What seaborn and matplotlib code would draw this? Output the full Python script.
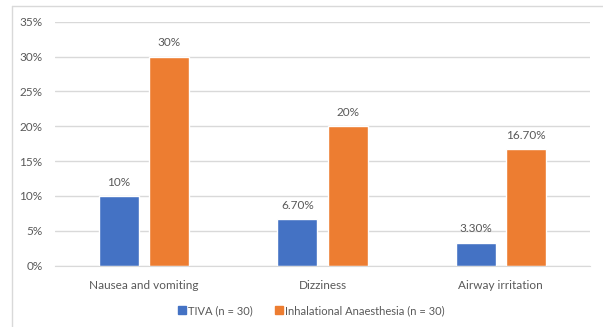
import matplotlib
matplotlib.use("Agg")
import matplotlib.pyplot as plt
import seaborn as sns
import pandas as pd
from matplotlib.lines import Line2D
from matplotlib.ticker import PercentFormatter

# Datos del gráfico
categories = ["Nausea and vomiting", "Dizziness", "Airway irritation"]
groups = ["TIVA (n = 30)", "Inhalational Anaesthesia (n = 30)"]
tiva_values = [10, 6.7, 3.3]
inhal_values = [30, 20, 16.7]
tiva_labels = ["10%", "6.70%", "3.30%"]
inhal_labels = ["30%", "20%", "16.70%"]
y_ticks = [0, 5, 10, 15, 20, 25, 30, 35]

colors = ["#4472c4", "#ed7d31"]
text_color = "#595959"
grid_color = "#d9d9d9"

df = pd.DataFrame({
    "category": categories * 2,
    "group": [groups[0]] * 3 + [groups[1]] * 3,
    "value": tiva_values + inhal_values,
})

sns.set_style("white")
plt.rcParams["font.family"] = ["Lato", "DejaVu Sans"]

fig = plt.figure(figsize=(6.03, 3.27), dpi=100)
ax = fig.add_axes([55 / 603, 61.3 / 327, 535 / 603, 244 / 327])

sns.barplot(data=df, x="category", y="value", hue="group", order=categories,
            hue_order=groups, palette=colors, width=0.566, gap=0.21,
            saturation=1, ax=ax, legend=False)

# Etiquetas sobre las barras
for cont, labels in zip(ax.containers, [tiva_labels, inhal_labels]):
    ax.bar_label(cont, labels=labels, padding=6, fontsize=8.5, color=text_color)

ax.set_ylim(0, 35)
ax.set_yticks(y_ticks)
ax.yaxis.set_major_formatter(PercentFormatter(decimals=0))
ax.set_xlim(-0.5, 2.5)
ax.grid(axis="y", color=grid_color, linewidth=1)
ax.set_axisbelow(True)
for s in ["top", "right", "left"]:
    ax.spines[s].set_visible(False)
ax.spines["bottom"].set_color(grid_color)
ax.tick_params(axis="both", length=0, labelsize=8.5, colors=text_color)
ax.tick_params(axis="x", pad=10)
ax.tick_params(axis="y", pad=9)
ax.set_xlabel("")
ax.set_ylabel("")

# Leyenda
handles = [Line2D([0], [0], marker="s", linestyle="", markersize=5.5,
                  color=c) for c in colors]
fig.legend(handles, groups, loc="center", bbox_to_anchor=(0.516, 1 - 310.5 / 327),
           ncol=2, frameon=False, fontsize=8, labelcolor=text_color,
           handletextpad=0.15, columnspacing=1.9, handlelength=0.8)

# Marco exterior
fig.add_artist(Line2D([12 / 603, 1], [1 - 6 / 327, 1 - 6 / 327],
                      color=grid_color, linewidth=1, transform=fig.transFigure))
fig.add_artist(Line2D([12 / 603, 12 / 603], [0, 1 - 6 / 327],
                      color=grid_color, linewidth=1, transform=fig.transFigure))

fig.savefig("out.png", dpi=100)
